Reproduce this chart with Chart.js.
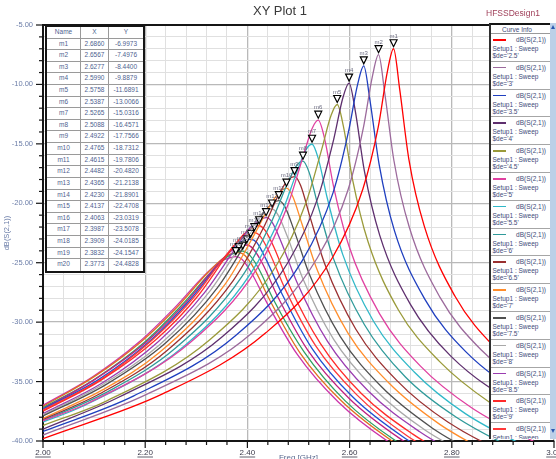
<!DOCTYPE html>
<html>
<head>
<meta charset="utf-8">
<title>XY Plot 1</title>
<script src="https://cdn.jsdelivr.net/npm/chart.js@4.4.1/dist/chart.umd.min.js"></script>
<style>
html, body { margin: 0; padding: 0; background: #fff; }
#wrap { position: relative; width: 556px; height: 459px; overflow: hidden; font-family: "Liberation Sans", Arial, sans-serif; }
#plot { position: absolute; left: 0; top: 0; }
.txt { position: absolute; white-space: nowrap; }
#title { left: 253px; top: 3px; font-size: 13px; color: #3a3a3a; }
#design { left: 486px; top: 8px; font-size: 8.5px; color: #a0405a; }
#xtitle { left: 43px; width: 511px; top: 453px; text-align: center; font-size: 8px; color: #5a6a90; }
#marks { position: absolute; left: 45px; top: 25px; width: 100px; height: 248px; box-sizing: border-box; border: 2px solid #151515; background: #fff; font-size: 6.5px; color: #4f5f90; }
.row { display: flex; height: 11.62px; box-sizing: border-box; border-bottom: 1px solid #9a9a9a; }
.row:last-child { border-bottom: none; }
.row div { text-align: center; line-height: 10.6px; box-sizing: border-box; border-right: 1px solid #9a9a9a; }
.row .c0 { width: 34px; }
.row .c1 { width: 28px; }
.row .c2 { width: 34px; border-right: none; }
#legend { position: absolute; left: 489px; top: 23px; width: 61px; height: 416px; box-sizing: border-box; border-left: 2px solid #303030; border-top: 2px solid #151515; background: #fff; overflow: hidden; font-size: 6.5px; color: #3d4a78; }
#lhead { position: absolute; left: 0; top: 0; width: 59px; height: 9px; border-bottom: 1px solid #9a9a9a; line-height: 9px; padding-left: 11px; box-sizing: border-box; }
.ent { position: absolute; left: 0; width: 59px; height: 27.8px; box-sizing: border-box; border-bottom: 1px solid #a6a6a6; }
.ent .sw { position: absolute; left: 1.5px; top: 5px; width: 13px; height: 1.6px; }
.ent .t1 { position: absolute; right: 4px; top: 2px; line-height: 7px; white-space: nowrap; }
.ent .t2 { position: absolute; left: 1.5px; top: 11px; line-height: 7px; white-space: nowrap; }
.ent .t3 { position: absolute; left: 1.5px; top: 18px; line-height: 7px; white-space: nowrap; }
#scroll { position: absolute; left: 550px; top: 23px; width: 6px; height: 416px; background: #bcd0e8; }
#scroll .up { position: absolute; left: 1px; top: 2px; width: 0; height: 0; border-left: 2.5px solid transparent; border-right: 2.5px solid transparent; border-bottom: 4px solid #2a58b0; }
#scroll .dn { position: absolute; left: 1px; bottom: 6px; width: 0; height: 0; border-left: 2.5px solid transparent; border-right: 2.5px solid transparent; border-top: 4px solid #2a58b0; }
</style>
</head>
<body>
<div id="wrap">
  <canvas id="plot" width="556" height="459"></canvas>
  <div class="txt" id="title">XY Plot 1</div>
  <div class="txt" id="design">HFSSDesign1</div>
  <div class="txt" id="xtitle">Freq [GHz]</div>
  <div id="marks"></div>
  <div id="legend"><div id="lhead">Curve Info</div></div>
  <div id="scroll"><div class="up"></div><div class="dn"></div></div>
</div>
<script>
// sweep values, one curve each
const deValues = [2.5, 3, 3.5, 4, 4.5, 5, 5.5, 6, 6.5, 7, 7.5, 8, 8.5, 9, 9.5, 10, 10.5, 11, 11.5, 12];
const curveColors = ['#ff0000', '#9c6a9c', '#1f3fbf', '#5e2f6e', '#9a9a3a', '#e040a0', '#30b8c8', '#2f9a9a', '#9a3030', '#ff8c2a',
                     '#505050', '#a8a8a8', '#9a3cb0', '#ff2a2a', '#ff3838', '#2050d0', '#c02080', '#30a060', '#e07020', '#cc33aa'];

// marker table (peaks)
const markerNames = ['m1', 'm2', 'm3', 'm4', 'm5', 'm6', 'm7', 'm8', 'm9', 'm10',
                     'm11', 'm12', 'm13', 'm14', 'm15', 'm16', 'm17', 'm18', 'm19', 'm20'];
const markerX = [2.6860, 2.6567, 2.6277, 2.5990, 2.5758, 2.5387, 2.5265, 2.5088, 2.4922, 2.4765,
                 2.4615, 2.4482, 2.4365, 2.4230, 2.4137, 2.4063, 2.3987, 2.3909, 2.3832, 2.3773];
const markerY = [-6.9973, -7.4976, -8.4400, -9.8879, -11.6891, -13.0066, -15.0316, -16.4571, -17.7566, -18.7312,
                 -19.7806, -20.4820, -21.2138, -21.8901, -22.4708, -23.0319, -23.5078, -24.0185, -24.1547, -24.4828];

// curve points (GHz, dB)
const curveFreq = [
  [2.000, 2.236, 2.436, 2.566, 2.626, 2.656, 2.674, 2.686, 2.698, 2.716, 2.746, 2.806, 2.886, 3.000],
  [2.000, 2.2067, 2.4067, 2.5367, 2.5967, 2.6267, 2.6447, 2.6567, 2.6687, 2.6867, 2.7167, 2.7767, 2.8567, 3.000],
  [2.000, 2.1777, 2.3777, 2.5077, 2.5677, 2.5977, 2.6157, 2.6277, 2.6397, 2.6577, 2.6877, 2.7477, 2.8277, 3.000],
  [2.000, 2.149, 2.349, 2.479, 2.539, 2.569, 2.587, 2.599, 2.611, 2.629, 2.659, 2.719, 2.799, 3.000],
  [2.000, 2.1258, 2.3258, 2.4558, 2.5158, 2.5458, 2.5638, 2.5758, 2.5878, 2.6058, 2.6358, 2.6958, 2.7758, 2.8758, 3.000],
  [2.000, 2.0887, 2.2887, 2.4187, 2.4787, 2.5087, 2.5267, 2.5387, 2.5507, 2.5687, 2.5987, 2.6587, 2.7387, 2.8387, 3.000],
  [2.000, 2.0765, 2.2765, 2.4065, 2.4665, 2.4965, 2.5145, 2.5265, 2.5385, 2.5565, 2.5865, 2.6465, 2.7265, 2.8265, 3.000],
  [2.000, 2.1288, 2.2588, 2.3888, 2.4488, 2.4788, 2.4968, 2.5088, 2.5208, 2.5388, 2.5688, 2.6288, 2.7088, 2.8088, 3.000],
  [2.000, 2.1122, 2.2422, 2.3722, 2.4322, 2.4622, 2.4802, 2.4922, 2.5042, 2.5222, 2.5522, 2.6122, 2.6922, 2.7922, 3.000],
  [2.000, 2.1165, 2.2265, 2.3565, 2.4165, 2.4465, 2.4645, 2.4765, 2.4885, 2.5065, 2.5365, 2.5965, 2.6765, 2.7765, 2.8765],
  [2.000, 2.1215, 2.2415, 2.3415, 2.4015, 2.4315, 2.4495, 2.4615, 2.4735, 2.4915, 2.5215, 2.5815, 2.6615, 2.7615, 2.8615],
  [2.000, 2.1182, 2.2282, 2.3282, 2.3882, 2.4182, 2.4362, 2.4482, 2.4602, 2.4782, 2.5082, 2.5682, 2.6482, 2.7482, 2.8482],
  [2.000, 2.1165, 2.2265, 2.3165, 2.3765, 2.4065, 2.4245, 2.4365, 2.4485, 2.4665, 2.4965, 2.5565, 2.6365, 2.7365, 2.8365],
  [2.000, 2.113, 2.223, 2.303, 2.363, 2.393, 2.411, 2.423, 2.435, 2.453, 2.483, 2.543, 2.623, 2.723, 2.823],
  [2.000, 2.1137, 2.2137, 2.2937, 2.3537, 2.3837, 2.4017, 2.4137, 2.4257, 2.4437, 2.4737, 2.5337, 2.6137, 2.7137, 2.8137],
  [2.000, 2.1063, 2.2063, 2.2863, 2.3463, 2.3763, 2.3943, 2.4063, 2.4183, 2.4363, 2.4663, 2.5263, 2.6063, 2.7063, 2.8063],
  [2.000, 2.0987, 2.1987, 2.2787, 2.3387, 2.3687, 2.3867, 2.3987, 2.4107, 2.4287, 2.4587, 2.5187, 2.5987, 2.6987, 2.7987],
  [2.000, 2.1009, 2.2009, 2.2709, 2.3309, 2.3609, 2.3789, 2.3909, 2.4029, 2.4209, 2.4509, 2.5109, 2.5909, 2.6909, 2.7909],
  [2.000, 2.1032, 2.1932, 2.2632, 2.3232, 2.3532, 2.3712, 2.3832, 2.3952, 2.4132, 2.4432, 2.5032, 2.5832, 2.6832, 2.7832],
  [2.000, 2.0973, 2.1873, 2.2573, 2.3173, 2.3473, 2.3653, 2.3773, 2.3893, 2.4073, 2.4373, 2.4973, 2.5773, 2.6773, 2.7773]
];
const curveDb = [
  [-39.8, -36.0, -30.9, -24.6, -18.8, -13.6, -8.9, -6.9973, -10.4, -16.3, -21.9, -27.8, -32.2, -36.1],
  [-39.5, -36.0, -31.0, -24.6, -18.9, -13.7, -9.3, -7.4976, -10.7, -16.4, -22.0, -27.9, -32.3, -37.0],
  [-39.2, -36.2, -31.1, -24.8, -19.1, -14.0, -10.0, -8.4400, -11.3, -16.7, -22.3, -28.1, -32.5, -37.9],
  [-39.0, -36.3, -31.3, -25.0, -19.4, -14.6, -11.1, -9.8879, -12.2, -17.3, -22.7, -28.5, -32.9, -38.9],
  [-38.7, -36.6, -31.5, -25.3, -19.8, -15.4, -12.6, -11.6891, -13.5, -18.0, -23.2, -29.0, -33.3, -36.8, -39.8],
  [-38.3, -36.8, -31.7, -25.5, -20.2, -16.1, -13.7, -13.0066, -14.5, -18.6, -23.6, -29.3, -33.7, -37.2, -40.9],
  [-38.4, -37.1, -32.0, -25.9, -20.9, -17.4, -15.5, -15.0316, -16.2, -19.6, -24.3, -29.9, -34.2, -37.7, -41.6],
  [-38.3, -35.8, -32.2, -26.2, -21.4, -18.3, -16.8, -16.4571, -17.4, -20.3, -24.7, -30.2, -34.6, -38.0, -42.3],
  [-38.2, -36.0, -32.4, -26.5, -22.0, -19.2, -18.0, -17.7566, -18.5, -21.1, -25.2, -30.6, -34.9, -38.4, -42.9],
  [-38.1, -35.7, -32.6, -26.8, -22.4, -20.0, -19.0, -18.7312, -19.4, -21.7, -25.6, -30.9, -35.1, -38.6, -41.1],
  [-37.9, -35.3, -31.7, -27.1, -23.0, -20.8, -20.0, -19.7806, -20.3, -22.3, -26.0, -31.2, -35.4, -38.9, -41.4],
  [-37.8, -35.2, -31.9, -27.3, -23.4, -21.4, -20.6, -20.4820, -21.0, -22.8, -26.3, -31.4, -35.6, -39.1, -41.5],
  [-37.7, -35.1, -31.6, -27.5, -23.8, -22.0, -21.4, -21.2138, -21.6, -23.3, -26.6, -31.6, -35.8, -39.2, -41.7],
  [-37.5, -34.9, -31.4, -27.8, -24.2, -22.6, -22.0, -21.8901, -22.3, -23.8, -27.0, -31.8, -36.0, -39.4, -41.9],
  [-37.4, -34.8, -31.5, -28.0, -24.6, -23.1, -22.6, -22.4708, -22.8, -24.2, -27.2, -32.0, -36.1, -39.6, -42.0],
  [-37.3, -34.9, -31.7, -28.2, -25.0, -23.6, -23.1, -23.0319, -23.3, -24.7, -27.5, -32.2, -36.3, -39.7, -42.2],
  [-37.3, -34.9, -31.8, -28.4, -25.3, -24.0, -23.6, -23.5078, -23.8, -25.0, -27.8, -32.4, -36.4, -39.8, -42.3],
  [-37.2, -34.8, -31.6, -28.6, -25.7, -24.5, -24.1, -24.0185, -24.3, -25.4, -28.1, -32.5, -36.6, -40.0, -42.4],
  [-37.1, -34.5, -31.6, -28.7, -25.8, -24.6, -24.2, -24.1547, -24.4, -25.5, -28.1, -32.6, -36.6, -40.0, -42.5],
  [-37.0, -34.6, -31.7, -28.8, -26.0, -24.9, -24.6, -24.4828, -24.7, -25.8, -28.3, -32.7, -36.7, -40.1, -42.5]
];

const FONT = '"Liberation Sans", Arial, sans-serif';
Chart.defaults.font.family = FONT;

const isMajorX = v => Math.abs(v * 5 - Math.round(v * 5)) < 1e-6;
const isMajorY = v => Math.abs(v / 5 - Math.round(v / 5)) < 1e-6;

// marker table
const marks = document.getElementById('marks');
const rows = [['Name', 'X', 'Y']].concat(markerNames.map((n, i) => [n, markerX[i].toFixed(4), markerY[i].toFixed(4)]));
rows.forEach(r => {
  const row = document.createElement('div');
  row.className = 'row';
  r.forEach((s, k) => {
    const c = document.createElement('div');
    c.className = 'c' + k;
    c.textContent = s;
    row.appendChild(c);
  });
  marks.appendChild(row);
});

// curve info box
const legend = document.getElementById('legend');
deValues.forEach((de, i) => {
  const e = document.createElement('div');
  e.className = 'ent';
  e.style.top = (9 + i * 27.8) + 'px';
  e.innerHTML = '<div class="sw" style="background:' + curveColors[i] + '"></div>' +
    '<div class="t1">dB(S(2,1))</div><div class="t2">Setup1 : Sweep</div>' +
    "<div class=\"t3\">$de='" + de + "'</div>";
  legend.appendChild(e);
});

const datasets = curveFreq.map((fs, i) => ({
  label: "dB(S(2,1)) $de='" + deValues[i] + "'",
  data: fs.map((f, k) => ({ x: f, y: curveDb[i][k] })),
  borderColor: curveColors[i],
  borderWidth: 1.3,
  pointRadius: 0,
  cubicInterpolationMode: 'monotone',
  fill: false
}));

// markers, tick marks, frame
const hfss = {
  id: 'hfss',
  afterDatasetsDraw(chart) {
    const { ctx, scales: { x, y } } = chart;
    ctx.save();
    markerX.forEach((fx, i) => {
      const px = x.getPixelForValue(fx);
      const py = y.getPixelForValue(markerY[i]);
      ctx.beginPath();
      ctx.moveTo(px - 3.5, py - 9);
      ctx.lineTo(px + 3.5, py - 9);
      ctx.lineTo(px, py - 2);
      ctx.closePath();
      ctx.fillStyle = '#fff';
      ctx.fill();
      ctx.strokeStyle = '#000';
      ctx.lineWidth = 1.2;
      ctx.stroke();
      ctx.fillStyle = '#6b6b80';
      ctx.font = '6px ' + FONT;
      ctx.textAlign = 'center';
      ctx.fillText(markerNames[i], px, py - 11);
    });
    ctx.restore();
  },
  afterDraw(chart) {
    const { ctx, chartArea: a, scales: { x, y } } = chart;
    ctx.save();
    ctx.strokeStyle = '#151515';
    ctx.lineWidth = 2;
    ctx.beginPath();
    ctx.moveTo(a.left - 1, a.top);
    ctx.lineTo(a.right, a.top);
    ctx.stroke();
    ctx.lineWidth = 1.2;
    x.ticks.forEach(t => {
      const px = x.getPixelForValue(t.value);
      const len = isMajorX(t.value) ? 7 : 4;
      ctx.beginPath();
      ctx.moveTo(px, a.bottom);
      ctx.lineTo(px, a.bottom + len);
      ctx.stroke();
    });
    y.ticks.forEach(t => {
      const py = y.getPixelForValue(t.value);
      const len = isMajorY(t.value) ? 7 : 4;
      ctx.beginPath();
      ctx.moveTo(a.left, py);
      ctx.lineTo(a.left - len, py);
      ctx.stroke();
    });
    // HFSS underlines the frequency labels
    ctx.font = '8px ' + FONT;
    ctx.strokeStyle = '#3a3a4a';
    ctx.lineWidth = 0.8;
    x.ticks.forEach(t => {
      if (!isMajorX(t.value)) return;
      const px = x.getPixelForValue(t.value);
      const w = ctx.measureText(t.value.toFixed(2)).width;
      ctx.beginPath();
      ctx.moveTo(px - w / 2, a.bottom + 16);
      ctx.lineTo(px + w / 2, a.bottom + 16);
      ctx.stroke();
    });
    ctx.restore();
  }
};

new Chart(document.getElementById('plot'), {
  type: 'line',
  data: { datasets },
  options: {
    responsive: false,
    animation: false,
    events: [],
    layout: { padding: { top: 25, right: 2, left: 0, bottom: 0 } },
    plugins: {
      legend: { display: false },
      title: { display: false },
      tooltip: { enabled: false }
    },
    scales: {
      x: {
        type: 'linear',
        min: 2,
        max: 3,
        ticks: {
          stepSize: 0.04,
          autoSkip: false,
          maxRotation: 0,
          minRotation: 0,
          padding: 7,
          color: '#3a3a4a',
          font: { size: 8 },
          callback: v => isMajorX(v) ? v.toFixed(2) : ''
        },
        grid: {
          drawTicks: false,
          color: c => c.tick && isMajorX(c.tick.value) ? '#b9b9b9' : '#e0e0e0',
          lineWidth: c => c.tick && isMajorX(c.tick.value) ? 1.3 : 1
        },
        border: { color: '#151515', width: 2 },
        afterFit(s) { s.height = 18; s.paddingLeft = 0; s.paddingRight = 0; }
      },
      y: {
        min: -40,
        max: -5,
        ticks: {
          stepSize: 1,
          autoSkip: false,
          padding: 10,
          color: '#6b7da8',
          font: { size: 7.5 },
          callback: v => isMajorY(v) ? v.toFixed(2) : ''
        },
        grid: {
          drawTicks: false,
          color: c => c.tick && isMajorY(c.tick.value) ? '#b9b9b9' : '#e0e0e0',
          lineWidth: c => c.tick && isMajorY(c.tick.value) ? 1.3 : 1
        },
        border: { color: '#151515', width: 2 },
        title: { display: true, text: 'dB(S(2,1))', color: '#6b7da8', font: { size: 7.5 }, padding: { top: 2, bottom: 0 } },
        afterFit(s) { s.width = 43; s.paddingTop = 0; s.paddingBottom = 0; }
      }
    }
  },
  plugins: [hfss]
});
</script>
</body>
</html>
